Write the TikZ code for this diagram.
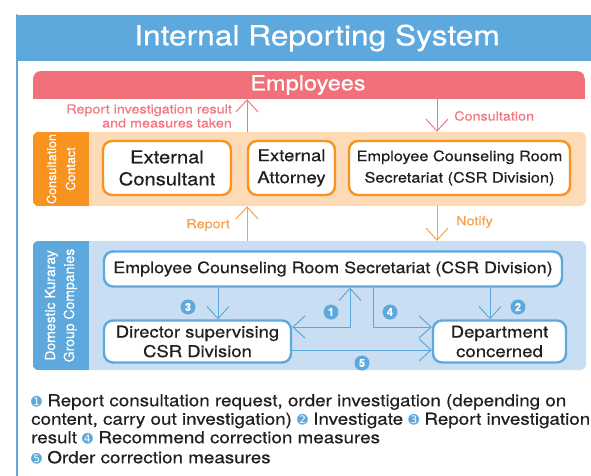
\documentclass[tikz,border=0pt]{standalone}
\usepackage{fontspec}
\setmainfont{TeX Gyre Heros}[FakeStretch=1.14, FakeBold=0.6]
\newfontfamily\sidefont{TeX Gyre Heros}[FakeBold=0.4]
\newfontfamily\numfont{DejaVu Sans}
\usetikzlibrary{arrows.meta,calc}

\definecolor{hdrblue}{RGB}{93,169,221}
\definecolor{emppink}{RGB}{240,113,121}
\definecolor{pinkline}{RGB}{240,122,132}
\definecolor{ccorange}{RGB}{247,147,30}
\definecolor{ccpeach}{RGB}{253,219,182}
\definecolor{orgline}{RGB}{248,162,78}
\definecolor{grband}{RGB}{201,222,242}
\definecolor{boxblue}{RGB}{93,169,221}
\definecolor{ink}{RGB}{35,31,32}

\newcommand{\fsz}[2]{\fontsize{#1}{#2}\selectfont}
\newcommand{\lnum}[1]{{\numfont\fsz{13}{13}\color{boxblue}#1}}

\begin{document}
\begin{tikzpicture}[x=1pt, y=-1pt, >={Straight Barb[length=12pt,width=22pt]}, line cap=round, line join=round,
		ccbox/.style={draw=ccorange, line width=2.4pt, fill=white, rounded corners=9pt, align=center, text=ink, inner sep=0pt},
		grbox/.style={draw=boxblue, line width=2.4pt, fill=white, rounded corners=9pt, align=center, text=ink, inner sep=0pt},
		flow/.style={->, line width=1pt},
		smalllbl/.style={inner sep=0pt, font=\fsz{12.6}{14}},
		sidelbl/.style={rotate=90, text=white, align=center, inner sep=0pt},
		badge/.style={circle, fill=boxblue, text=white, inner sep=0pt, minimum size=15pt, font=\sidefont\bfseries\fsz{11}{11}}]
		
		\useasboundingbox (0,0) rectangle (591,476);
		
		% frame and header
		\fill[hdrblue] (16,15) rectangle (591,61);
		\draw[hdrblue, line width=2pt] (17,15) -- (17,476);
		\node[text=white, font=\fsz{27.8}{32}] (title) at (317,38) {Internal Reporting System};
		
		% employees bar, rounded on top only
		\begin{scope}
			\clip[rounded corners=8pt] (33,71) rectangle (585,115);
			\fill[emppink] (33,71) rectangle (585,99);
		\end{scope}
		\node[minimum width=552pt, minimum height=28pt, inner sep=0pt, text=white, font=\fsz{20.6}{24}] (emp) at (308,85) {Employees};
		
		% consultation contact band
		\node[fill=ccpeach, rounded corners=6pt, minimum width=553pt, minimum height=74pt, inner sep=0pt] (ccband) at (309.5,169) {};
		\begin{scope}
			\clip[rounded corners=6pt] (ccband.north west) rectangle (ccband.south east);
			\fill[ccorange] (ccband.north west) rectangle ($(ccband.south west)+(56,0)$);
		\end{scope}
		\node[sidelbl, font=\sidefont\fsz{12.6}{19}] (cclbl) at (61,169) {Consultation\\Contact};
		
		\node[ccbox, minimum width=128pt, minimum height=54pt, font=\fsz{17.7}{22}] (econs) at (167,168) {External\\Consultant};
		\node[ccbox, minimum width=87pt, minimum height=54pt, font=\fsz{16.3}{22}] (eatty) at (291.5,168) {External\\Attorney};
		\node[ccbox, minimum width=221pt, minimum height=54pt, font=\fsz{14.3}{21.5}] (ecsr) at (459.5,168) {Employee Counseling Room\\Secretariat (CSR Division)};
		
		% group companies band
		\node[fill=grband, rounded corners=6pt, minimum width=553pt, minimum height=129pt, inner sep=0pt] (grp) at (309.5,305.5) {};
		\begin{scope}
			\clip[rounded corners=6pt] (grp.north west) rectangle (grp.south east);
			\fill[hdrblue] (grp.north west) rectangle ($(grp.south west)+(56,0)$);
		\end{scope}
		\node[sidelbl, font=\sidefont\fsz{14}{19}] (grplbl) at (61,305.5) {Domestic Kuraray\\Group Companies};
		
		\node[grbox, minimum width=458pt, minimum height=35pt, font=\fsz{15.7}{19}] (topcsr) at (333,269) {Employee Counseling Room Secretariat (CSR Division)};
		\node[grbox, minimum width=187pt, minimum height=42pt, font=\fsz{16.2}{19.5}] (director) at (197.5,341.5) {Director supervising\\CSR Division};
		\node[grbox, minimum width=133pt, minimum height=42pt, font=\fsz{16.3}{19.5}] (dept) at (499.5,341.5) {Department\\concerned};
		
		% arrows between employees and contacts
		\coordinate (upx) at (247,0);
		\coordinate (dnx) at (437,0);
		\draw[flow, pinkline] (ccband.north -| upx) -- (emp.south -| upx);
		\draw[flow, pinkline] (emp.south -| dnx) -- (ccband.north -| dnx);
		\node[smalllbl, anchor=east, align=right, text=pinkline] (replbl) at (232,116) {Report investigation result\\and measures taken};
		\node[smalllbl, anchor=west, text=pinkline] (conslbl) at (454,116) {Consultation};
		
		\draw[flow, orgline] (grp.north -| upx) -- (ccband.south -| upx);
		\draw[flow, orgline] (ccband.south -| dnx) -- (grp.north -| dnx);
		\node[smalllbl, anchor=east, text=orgline] (rptlbl) at (230,225) {Report};
		\node[smalllbl, anchor=west, text=orgline] (ntflbl) at (456,222) {Notify};
		
		% flows inside the group companies
		\coordinate (xone) at (350,0);
		\coordinate (xtwo) at (490,0);
		\coordinate (xthree) at (218,0);
		\coordinate (xfour) at (373,0);
		\coordinate (yrow) at (0,327);
		\coordinate (yfive) at (0,350);
		\begin{scope}[boxblue]
			\draw[flow] (topcsr.south -| xthree) -- (director.north -| xthree);
			\draw[flow] (topcsr.south -| xtwo) -- (dept.north -| xtwo);
			\draw[flow, <->] (topcsr.south -| xone) -- (xone |- yrow) -- (director.east |- yrow);
			\draw[flow] (topcsr.south -| xfour) -- (xfour |- yrow) -- (dept.west |- yrow);
			\draw[flow] (director.east |- yfive) -- (dept.west |- yfive);
		\end{scope}
		\node[badge] (nthree) at (188,307) {3};
		\node[badge] (ntwo) at (518,307) {2};
		\node[badge] (none) at (331,312) {1};
		\node[badge] (nfour) at (390,312) {4};
		\node[badge] (nfive) at (362,363) {5};
		
		% legend
		\node[anchor=north west, align=left, inner sep=0pt, text=ink, font=\fsz{16.5}{18.5}] (legend) at (31,394) {%
			\lnum{➊} Report consultation request, order investigation (depending on\\
			content, carry out investigation) \lnum{➋} Investigate \lnum{➌} Report investigation\\
			result \lnum{➍} Recommend correction measures\\[1.5pt]
			\lnum{➎} Order correction measures};
		
	\end{tikzpicture}
\end{document}
